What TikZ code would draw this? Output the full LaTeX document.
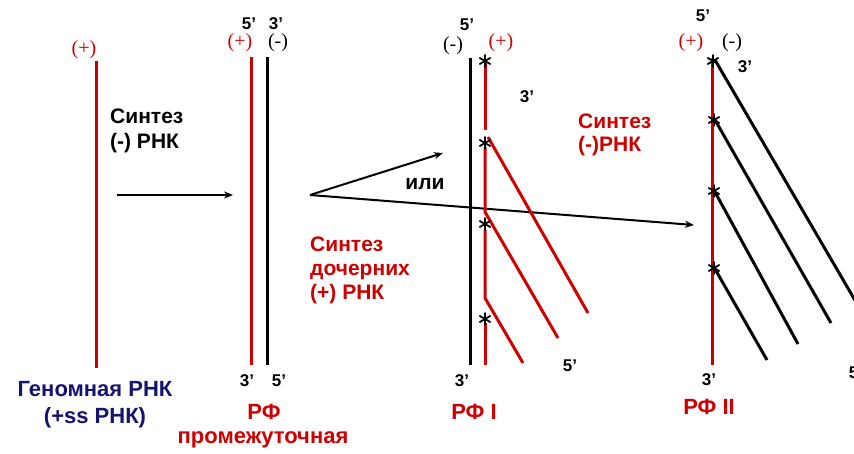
\documentclass[tikz,border=0pt]{standalone}
\usepackage{fontspec}
\setmainfont{Liberation Sans}
\newfontfamily\serifp{Liberation Serif}
\usetikzlibrary{arrows.meta}
\definecolor{rnared}{RGB}{204,0,0}
\definecolor{navy}{RGB}{20,20,110}
\begin{document}
\begin{tikzpicture}[x=1pt,y=-1pt,
  strand/.style={line width=3pt},
  plusstrand/.style={rnared,strand},
  minusstrand/.style={black,strand},
  arr/.style={line width=2pt,-{Stealth[length=9pt,width=7pt]}},
  lab/.style={font=\bfseries\fontsize{21}{24}\selectfont,inner sep=0pt},
  biglab/.style={font=\bfseries\fontsize{22}{24}\selectfont,inner sep=0pt},
  prime/.style={font=\bfseries\fontsize{17}{18}\selectfont,inner sep=0pt},
  sign/.style={font=\serifp\fontsize{20}{22}\selectfont,inner sep=0pt},
  astk/.style={circle,inner sep=0pt,minimum size=15pt,
    path picture={
      \draw[black,line width=1.8pt,line cap=round]
        ([yshift=6pt]path picture bounding box.center) -- ([yshift=-6pt]path picture bounding box.center)
        ([shift={(30:6pt)}]path picture bounding box.center) -- ([shift={(210:6pt)}]path picture bounding box.center)
        ([shift={(150:6pt)}]path picture bounding box.center) -- ([shift={(330:6pt)}]path picture bounding box.center);
    }}]
\useasboundingbox (0,0) rectangle (854,454);

% ---------- Genomic RNA ----------
\coordinate (g1) at (96,61);
\coordinate (g2) at (96,368);
\draw[plusstrand] (g1) -- (g2);
\node[sign,rnared] (gp) at (84,50) {(+)};
\node[biglab,navy] (gn1) at (95,389) {Геномная РНК};
\node[biglab,navy] (gn2) at (95,418) {(+ss РНК)};
\node[lab,align=left,anchor=north west,font=\bfseries\fontsize{21}{25}\selectfont] (s1) at (110,109) {Синтез\\(-) РНК};
\coordinate (a1s) at (117,195);
\coordinate (a1e) at (233,195);
\draw[arr] (a1s) -- (a1e);

% ---------- RF intermediate ----------
\coordinate (r1t) at (251,57);
\coordinate (r1b) at (251,365);
\coordinate (r2t) at (267,57);
\coordinate (r2b) at (267,365);
\draw[plusstrand] (r1t) -- (r1b);
\draw[minusstrand] (r2t) -- (r2b);
\node[prime] (r5) at (249,24) {5’};
\node[prime] (r3) at (276,24) {3’};
\node[sign,rnared] (rp) at (240,43) {(+)};
\node[sign] (rm) at (278,43) {(-)};
\node[prime] (r3b) at (247,381) {3’};
\node[prime] (r5b) at (279,381) {5’};
\node[biglab,rnared] (rf) at (264,412) {РФ};
\node[biglab,rnared] (rf2) at (263,440) {промежуточная};
\node[lab,rnared,align=left,anchor=north west,font=\bfseries\fontsize{21}{24}\selectfont] (s2) at (310,237) {Синтез\\дочерних\\(+) РНК};

\coordinate (bs) at (310,195);
\coordinate (b1e) at (443,153);
\coordinate (b2e) at (694,225);
\draw[arr] (bs) -- (b1e);
\draw[arr] (bs) -- (b2e);
\node[lab] (ili) at (425,184) {или};

% ---------- RF I ----------
\coordinate (m1t) at (470,58);
\coordinate (m1b) at (470,365);
\draw[minusstrand] (m1t) -- (m1b);
\coordinate (p1a) at (485,62);
\coordinate (p1b) at (485,130);
\coordinate (d1a) at (488,137);
\coordinate (d1b) at (588,313);
\coordinate (p2a) at (485,147);
\coordinate (p2b) at (485,212);
\coordinate (d2b) at (558,338);
\coordinate (p3a) at (485,230);
\coordinate (p3b) at (485,298);
\coordinate (d3b) at (523,363);
\coordinate (p4a) at (485,323);
\coordinate (p4b) at (485,365);
\draw[plusstrand] (p1a) -- (p1b);
\draw[plusstrand] (d1a) -- (d1b);
\draw[plusstrand] (p2a) -- (p2b) -- (d2b);
\draw[plusstrand] (p3a) -- (p3b) -- (d3b);
\draw[plusstrand] (p4a) -- (p4b);
\node[astk] (st1) at (485,61) {};
\node[astk] (st2) at (485,143) {};
\node[astk] (st3) at (485,224) {};
\node[astk] (st4) at (485,319) {};
\node[prime] (i5) at (467,25) {5’};
\node[sign] (im) at (453,46) {(-)};
\node[sign,rnared] (ip) at (501,43) {(+)};
\node[prime] (i3) at (527,97) {3’};
\node[lab,rnared,align=left,anchor=north west,font=\bfseries\fontsize{21}{23}\selectfont] (s3) at (578,114) {Синтез\\(-)РНК};
\node[prime] (i3b) at (462,381) {3’};
\node[prime] (i5b) at (570,366) {5’};
\node[biglab,rnared] (rfi) at (474,412) {РФ I};

% ---------- RF II ----------
\coordinate (q1t) at (712,58);
\coordinate (q1b) at (712,365);
\draw[plusstrand] (q1t) -- (q1b);
\coordinate (e1a) at (715,60);
\coordinate (e1b) at (856,302);
\coordinate (e2a) at (715,120);
\coordinate (e2b) at (831,323);
\coordinate (e3a) at (715,192);
\coordinate (e3b) at (798,344);
\coordinate (e4a) at (715,269);
\coordinate (e4b) at (767,360);
\draw[minusstrand] (e1a) -- (e1b);
\draw[minusstrand] (e2a) -- (e2b);
\draw[minusstrand] (e3a) -- (e3b);
\draw[minusstrand] (e4a) -- (e4b);
\node[astk] (t1) at (713,61) {};
\node[astk] (t2) at (714,120) {};
\node[astk] (t3) at (714,191) {};
\node[astk] (t4) at (714,268) {};
\node[prime] (j5) at (703,16) {5’};
\node[sign,rnared] (jp) at (691,43) {(+)};
\node[sign] (jm) at (732,43) {(-)};
\node[prime] (j3) at (745,67) {3’};
\node[prime] (j3b) at (709,380) {3’};
\node[prime] (j5b) at (856,373) {5’};
\node[biglab,rnared] (rfii) at (709,407) {РФ II};
\end{tikzpicture}
\end{document}
